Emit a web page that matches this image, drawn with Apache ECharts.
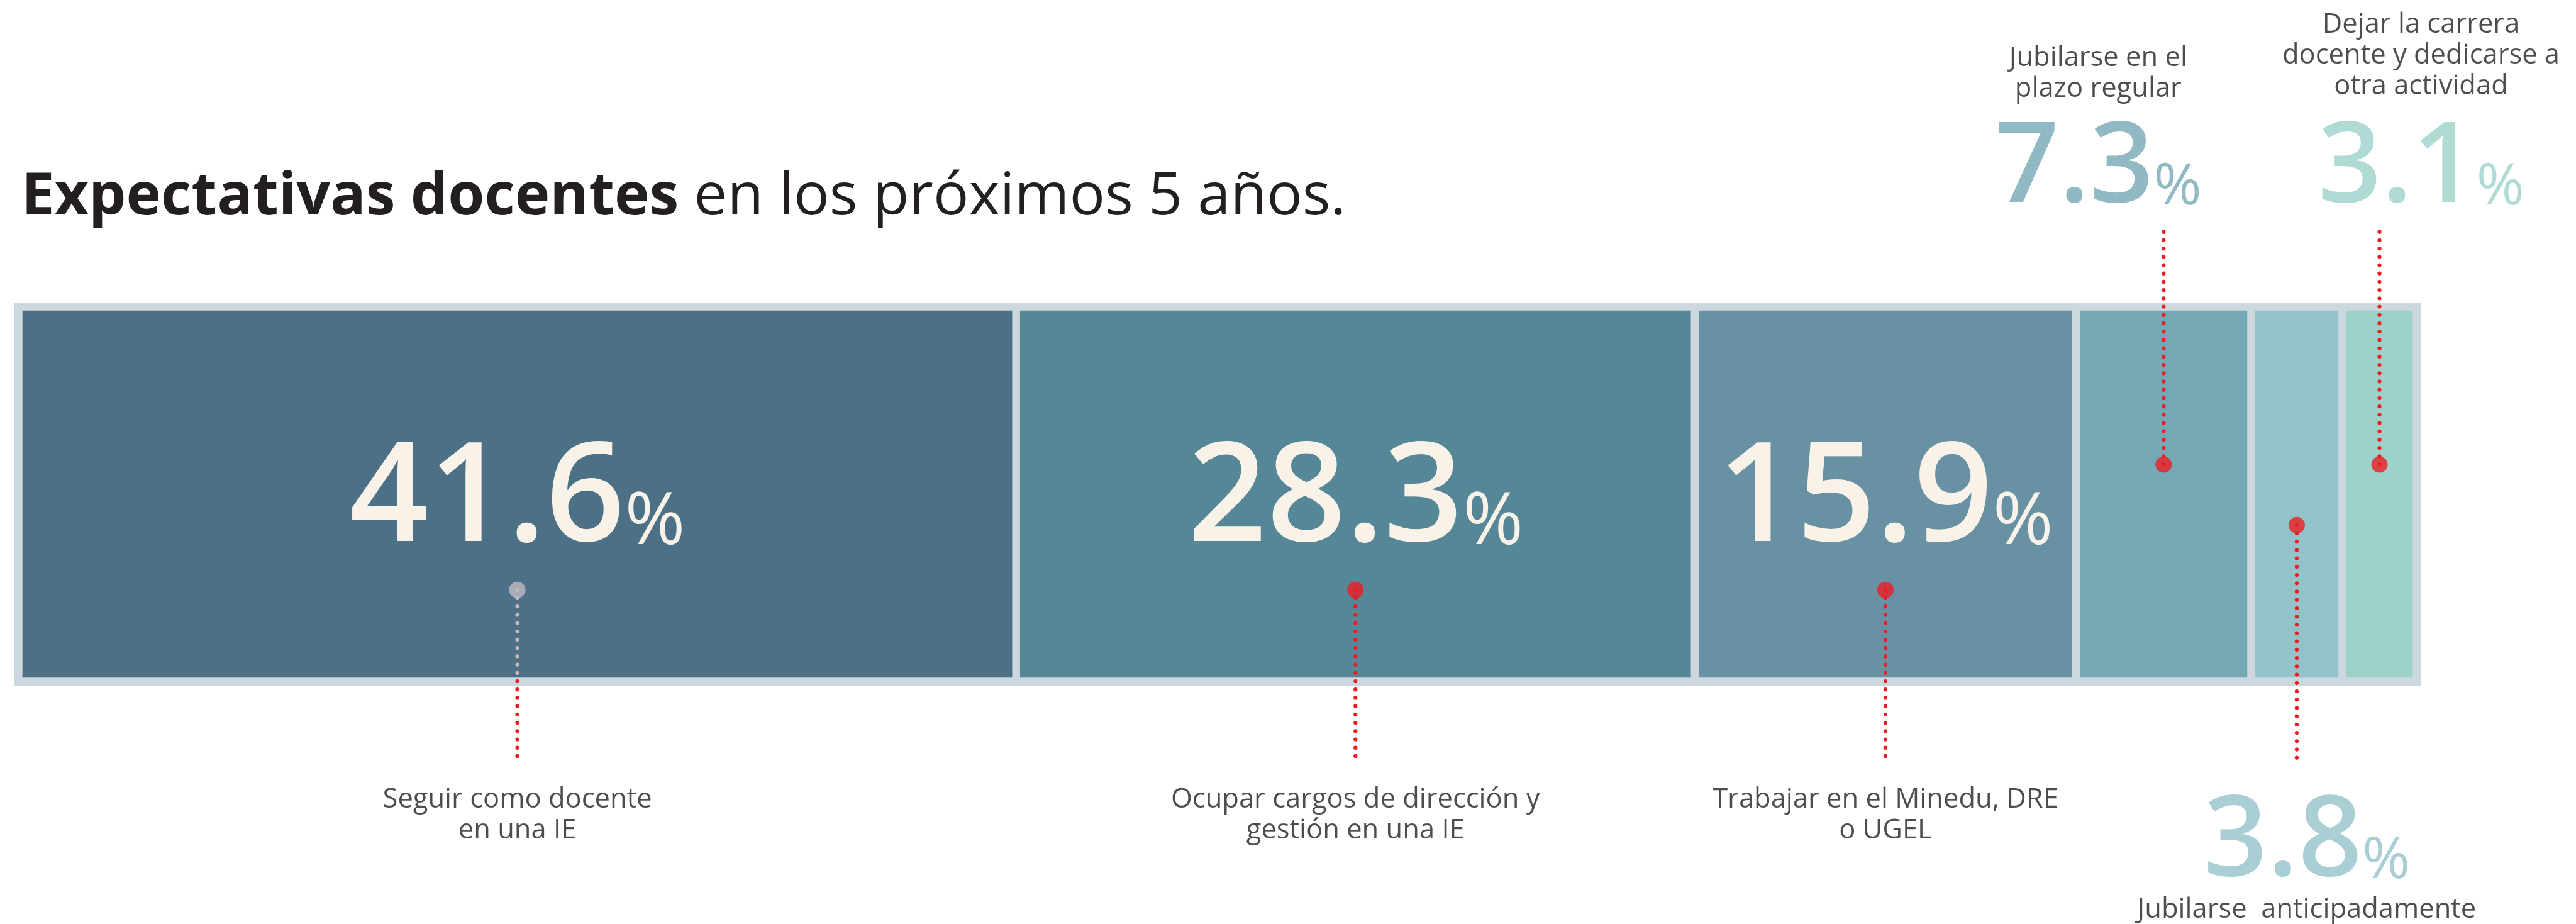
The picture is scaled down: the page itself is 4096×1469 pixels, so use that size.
<!DOCTYPE html>
<html>
<head>
<meta charset="utf-8">
<title>Expectativas docentes</title>
<script src="https://cdn.jsdelivr.net/npm/echarts@6/dist/echarts.min.js"></script>
<style>
  html, body { margin: 0; padding: 0; background: #fff; }
  #chart { width: 4096px; height: 1469px; }
</style>
</head>
<body>
<div id="chart"></div>
<script>
// --- datos ---
const categories = [
  'Seguir como docente\nen una IE',
  'Ocupar cargos de dirección y\ngestión en una IE',
  'Trabajar en el Minedu, DRE\no UGEL',
  'Jubilarse en el\nplazo regular',
  'Jubilarse  anticipadamente',
  'Dejar la carrera\ndocente y dedicarse a\notra actividad'
];
const values = [41.6, 28.3, 15.9, 7.3, 3.8, 3.1];
const titleBold = 'Expectativas docentes';
const titleRest = ' en los próximos 5 años.';

// --- estilos ---
const barColors = ['#4c7186', '#568797', '#6892a3', '#74a8b4', '#93c2c9', '#9cd2ca'];
const FONT = '"Open Sans", "Noto Sans", sans-serif';
const INK = '#231f20';
const RED = '#ed1c24';
const FRAME = '#cdd8de';
const CREAM = '#f8f2e9';
const K = 0.44;

// callouts: dot height and line end on the hidden 0..1 axis (0 = frame bottom, 1 = frame top)
const callouts = [
  { dotY: 0.25, endY: -0.195, side: 'bottom', dist: 38, dx: 0, dot: '#bcbcc0' },
  { dotY: 0.25, endY: -0.195, side: 'bottom', dist: 38, dx: 0 },
  { dotY: 0.25, endY: -0.195, side: 'bottom', dist: 38, dx: 0 },
  { dotY: 0.577, endY: 1.194, side: 'top', dist: 3.5, dx: -104, gap: 115, big: true },
  { dotY: 0.419, endY: -0.197, side: 'bottom', dist: 142, dx: 16, big: true },
  { dotY: 0.577, endY: 1.194, side: 'top', dist: 3.5, dx: 66, gap: 119, big: true }
];

const chart = echarts.init(document.getElementById('chart'));

const starts = [];
values.reduce((acc, v) => { starts.push(acc); return acc + v; }, 0);
const mids = values.map((v, i) => starts[i] + v / 2);
const fmt = v => v.toFixed(1);

// digits + smaller %, both sitting on the same baseline
function numRich(color, size, pSize, lift) {
  return {
    n: { color: color, fontFamily: FONT, fontWeight: 600, fontSize: size, lineHeight: size * K, verticalAlign: 'bottom' },
    p: { color: color, fontFamily: FONT, fontWeight: 400, fontSize: pSize, lineHeight: pSize * K, verticalAlign: 'bottom', padding: [0, 0, lift, 0] }
  };
}

const series = [];

// bloques apilados
values.forEach((v, i) => {
  series.push({
    type: 'bar',
    name: categories[i],
    stack: 'total',
    barWidth: 596,
    data: [v],
    itemStyle: { color: barColors[i], borderColor: FRAME, borderWidth: 6.25 },
    label: i < 3 ? {
      show: true,
      position: 'inside',
      offset: [0, 73],
      formatter: '{n|' + fmt(v) + '}{p|%}',
      rich: numRich(CREAM, 220, 116, 17)
    } : { show: false },
    silent: true
  });
});

// llamadas: linea punteada, punto y texto
callouts.forEach((c, i) => {
  const x = mids[i];
  const parts = categories[i].split('\n');
  let text = parts.map(s => '{t|' + s + '}').join('\n');
  if (c.big) {
    const num = '{n|' + fmt(values[i]) + '}{p|%}';
    text = c.side === 'top'
      ? text + '\n{s| }\n' + num
      : num + '\n' + parts.map(s => '{u|' + s + '}').join('\n');
  }
  const rich = Object.assign(numRich(barColors[i], 178, 92, 15), {
    t: { color: INK, fontFamily: FONT, fontSize: 43.5, lineHeight: 49 },
    u: { color: INK, fontFamily: FONT, fontSize: 43.5, lineHeight: 32 },
    s: { fontSize: 1, lineHeight: c.gap || 1 }
  });

  series.push({
    type: 'line',
    xAxisIndex: 0,
    yAxisIndex: 1,
    clip: false,
    symbol: 'none',
    z: 5,
    silent: true,
    lineStyle: { color: RED, width: 6.3, type: [0.01, 13.2], cap: 'round' },
    data: [[x, c.dotY], [x, c.endY]]
  });
  if (c.dot) {
    // tramo gris dentro de la barra
    series.push({
      type: 'line',
      xAxisIndex: 0,
      yAxisIndex: 1,
      clip: false,
      symbol: 'none',
      z: 6,
      silent: true,
      lineStyle: { color: c.dot, width: 6.3, type: [0.01, 13.2], cap: 'round' },
      data: [[x, c.dotY], [x, 0.02]]
    });
  }
  series.push({
    type: 'scatter',
    xAxisIndex: 0,
    yAxisIndex: 1,
    clip: false,
    z: 7,
    silent: true,
    data: [
      { value: [x, c.dotY], symbolSize: 26, itemStyle: { color: c.dot || RED } },
      {
        value: [x, c.endY],
        symbolSize: 0.1,
        itemStyle: { color: 'rgba(0,0,0,0)' },
        label: {
          show: true,
          position: c.side,
          distance: c.dist,
          offset: [c.dx, 0],
          align: 'center',
          formatter: text,
          rich: rich
        }
      }
    ]
  });
});

chart.setOption({
  animation: false,
  backgroundColor: '#ffffff',
  title: {
    text: '{b|' + titleBold + '}{r|' + titleRest + '}',
    left: 34,
    top: 267,
    padding: 0,
    textStyle: {
      rich: {
        b: { fontFamily: FONT, fontWeight: 'bold', fontSize: 94, lineHeight: 94, color: INK },
        r: { fontFamily: FONT, fontWeight: 'normal', fontSize: 94, lineHeight: 94, color: INK }
      }
    }
  },
  grid: {
    left: 22,
    right: 246,
    top: 481,
    height: 609,
    show: true,
    backgroundColor: FRAME,
    borderWidth: 0
  },
  xAxis: { type: 'value', min: -0.194, max: 100.194, show: false },
  yAxis: [
    { type: 'category', data: ['total'], show: false },
    { type: 'value', min: 0, max: 1, show: false }
  ],
  series: series
});
</script>
</body>
</html>
